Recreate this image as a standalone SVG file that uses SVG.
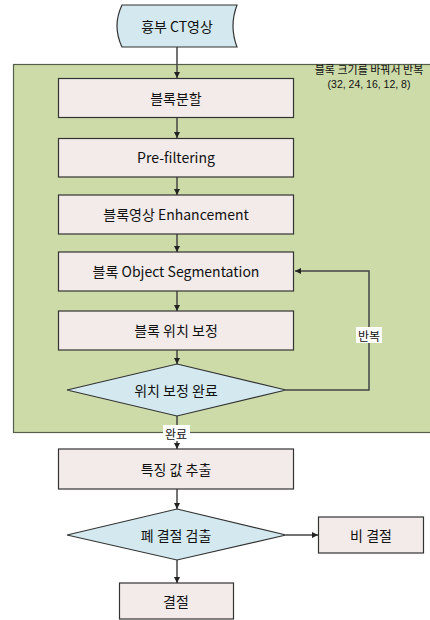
<svg xmlns="http://www.w3.org/2000/svg" width="430" height="620" viewBox="0 0 430 620">
<style>
text{font-family:"Noto Sans CJK KR","Noto Sans",sans-serif;font-size:14px;fill:#111;text-anchor:middle;dominant-baseline:central}
.box{fill:#f2ebe9;stroke:#333;stroke-width:1.2}
.dia{fill:#d3e9ef;stroke:#333;stroke-width:1.2}
.ln{fill:none;stroke:#444;stroke-width:1.5}
.small{font-size:11px}
.num{font-family:"Liberation Sans",sans-serif;font-size:10.5px}
.lbl{font-size:12px}
</style>
<defs>
<marker id="ah" viewBox="0 0 10 10" refX="10" refY="5" markerWidth="6" markerHeight="6" orient="auto" markerUnits="userSpaceOnUse">
<path d="M0,0 L10,5 L0,10 z" fill="#222"/>
</marker>
</defs>
<rect id="container" x="13.5" y="64.5" width="430" height="368" fill="#cddba9" stroke="#55604a" stroke-width="1.2"/>
<text class="small" x="369" y="69">블록 크기를 바꿔서 반복</text>
<text class="num" x="369" y="84">(32, 24, 16, 12, 8)</text>
<g id="connectors">
<line class="ln" x1="177" y1="47" x2="177" y2="78" marker-end="url(#ah)"/>
<line class="ln" x1="177" y1="117" x2="177" y2="138" marker-end="url(#ah)"/>
<line class="ln" x1="177" y1="177" x2="177" y2="195" marker-end="url(#ah)"/>
<line class="ln" x1="177" y1="234" x2="177" y2="252" marker-end="url(#ah)"/>
<line class="ln" x1="177" y1="291" x2="177" y2="311" marker-end="url(#ah)"/>
<line class="ln" x1="177" y1="350" x2="177" y2="364" marker-end="url(#ah)"/>
<polyline class="ln" points="286,390 369,390 369,271 295,271" marker-end="url(#ah)"/>
<line class="ln" x1="177" y1="416" x2="177" y2="449" marker-end="url(#ah)"/>
<line class="ln" x1="177" y1="489" x2="177" y2="509" marker-end="url(#ah)"/>
<line class="ln" x1="286" y1="535" x2="318" y2="535" marker-end="url(#ah)"/>
<line class="ln" x1="177" y1="560" x2="177" y2="583" marker-end="url(#ah)"/>
<rect x="356" y="327" width="26" height="16" fill="#fff"/>
<text class="lbl" x="369" y="335">반복</text>
<rect x="163" y="425" width="27" height="16" fill="#fff"/>
<text class="lbl" x="176" y="433">완료</text>
</g>
<g id="n0">
<path d="M122,5 L237,5 Q229,26 237,47 L122,47 Q112,26 122,5 Z" class="dia"/>
<text x="177" y="26">흉부 CT영상</text>
</g>
<g id="n1"><rect class="box" x="58.5" y="78.5" width="235" height="39"/><text x="176" y="98">블록분할</text></g>
<g id="n2"><rect class="box" x="58.5" y="138.5" width="235" height="38.5"/><text x="176" y="157">Pre-filtering</text></g>
<g id="n3"><rect class="box" x="58.5" y="195" width="235" height="39"/><text x="176" y="214">블록영상 Enhancement</text></g>
<g id="n4"><rect class="box" x="58.5" y="252" width="235" height="39"/><text x="176" y="271">블록 Object Segmentation</text></g>
<g id="n5"><rect class="box" x="58.5" y="311" width="235" height="39"/><text x="176" y="330">블록 위치 보정</text></g>
<g id="n6"><polygon class="dia" points="177,364 286,390 177,416 67,390"/><text x="176" y="390">위치 보정 완료</text></g>
<g id="n7"><rect class="box" x="58.5" y="449" width="235" height="40"/><text x="176" y="469">특징 값 추출</text></g>
<g id="n8"><polygon class="dia" points="177,509 286,535 177,560 67,535"/><text x="176" y="535">폐 결절 검출</text></g>
<g id="n9"><rect class="box" x="318.5" y="517" width="105" height="36"/><text x="371" y="535">비 결절</text></g>
<g id="n10"><rect class="box" x="119.5" y="583" width="114" height="36"/><text x="176" y="601">결절</text></g>
</svg>
